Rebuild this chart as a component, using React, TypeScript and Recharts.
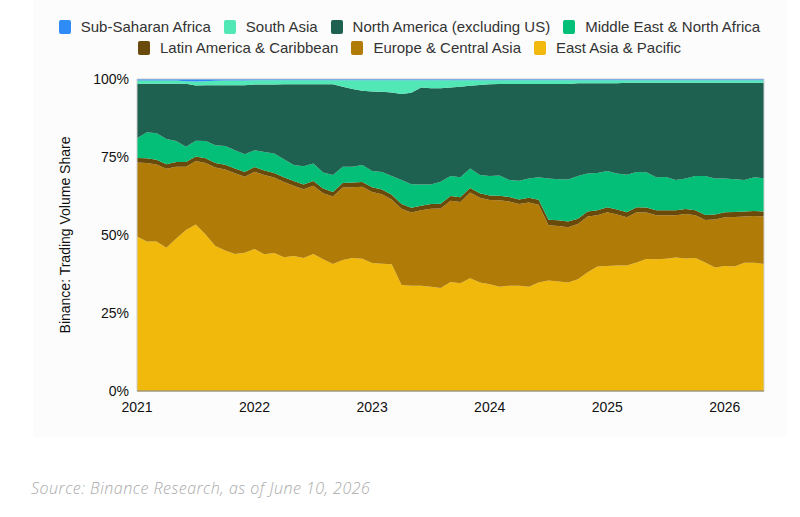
import { AreaChart, Area, XAxis, YAxis, ReferenceArea, Label } from 'recharts'

// months Jan 2021 .. May 2026
const months: string[] = []
for (let y = 2021; y <= 2026; y++) {
    for (let m = 1; m <= 12; m++) {
        if (y === 2026 && m > 5) break
        months.push(`${y}-${String(m).padStart(2, '0')}`)
    }
}

const yearTicks = ['2021-01', '2022-01', '2023-01', '2024-01', '2025-01', '2026-01']
const shareTicks = [0, 0.25, 0.5, 0.75, 1]

// share of trading volume, %
const eastAsiaPacific = [
    49.5, 47.9, 47.9, 45.9, 48.9, 51.6, 53.4, 50.2, 46.5, 45.0, 43.9, 44.3,
    45.5, 43.8, 44.2, 42.9, 43.3, 42.6, 43.9, 42.2, 40.7, 42.0, 42.6, 42.4,
    41.0, 40.8, 40.6, 34.0, 33.7, 33.7, 33.4, 33.0, 34.9, 34.5, 36.1, 34.8,
    34.2, 33.4, 33.7, 33.7, 33.4, 34.8, 35.4, 35.1, 34.8, 35.8, 38.1, 39.9,
    40.1, 40.2, 40.2, 41.2, 42.3, 42.2, 42.4, 42.8, 42.5, 42.6, 41.2, 39.6,
    40.1, 39.9, 41.1, 41.1, 40.7,
]
const europeCentralAsia = [
    23.7, 25.2, 24.7, 25.3, 23.0, 20.3, 20.3, 22.9, 25.1, 26.0, 25.9, 24.4,
    24.8, 25.4, 24.2, 24.1, 22.5, 22.1, 21.9, 21.2, 21.6, 23.2, 22.7, 23.1,
    22.8, 22.3, 20.8, 24.4, 23.5, 24.2, 25.0, 25.5, 26.1, 26.1, 27.5, 27.1,
    27.0, 27.7, 27.0, 26.2, 27.0, 24.9, 17.7, 17.8, 17.7, 17.7, 17.8, 16.4,
    17.2, 16.4, 15.5, 16.1, 14.9, 14.1, 13.9, 13.5, 14.2, 13.7, 13.6, 15.4,
    15.6, 15.9, 14.8, 15.0, 15.2,
]
const latinAmerica = [
    1.5, 1.5, 1.5, 1.5, 1.5, 1.5, 1.5, 1.5, 1.5, 1.5, 1.5, 1.5,
    1.5, 1.5, 1.5, 1.5, 1.5, 1.5, 1.5, 1.5, 1.5, 1.5, 1.5, 1.5,
    1.5, 1.5, 1.5, 1.5, 1.5, 1.5, 1.5, 1.5, 1.5, 1.5, 1.5, 1.5,
    1.5, 1.5, 1.5, 1.5, 1.5, 1.6, 1.8, 1.8, 1.8, 1.7, 1.6, 1.6,
    1.6, 1.6, 1.6, 1.6, 1.6, 1.6, 1.6, 1.6, 1.6, 1.6, 1.6, 1.6,
    1.6, 1.6, 1.6, 1.6, 1.6,
]
const middleEast = [
    6.3, 8.3, 8.5, 8.1, 6.7, 4.9, 5.0, 5.5, 5.7, 6.0, 5.9, 5.7,
    5.4, 5.9, 6.2, 5.8, 5.1, 5.8, 5.6, 5.1, 5.4, 5.2, 5.1, 5.4,
    5.2, 5.6, 6.0, 7.7, 7.6, 6.8, 6.3, 7.1, 6.4, 6.4, 6.2, 5.8,
    6.2, 6.5, 5.4, 6.0, 6.2, 7.2, 13.2, 13.2, 13.5, 13.7, 12.2, 12.0,
    11.6, 11.5, 12.0, 11.3, 11.3, 10.6, 10.7, 9.7, 9.8, 11.0, 12.5, 11.5,
    10.8, 10.5, 10.1, 10.8, 10.7,
]
const northAmerica = [
    17.4, 15.6, 15.9, 17.7, 18.4, 20.2, 17.7, 17.9, 19.2, 19.5, 20.8, 22.1,
    21.0, 21.6, 22.1, 24.0, 25.9, 26.3, 25.4, 28.3, 29.1, 25.6, 24.9, 23.8,
    25.5, 25.7, 26.8, 27.6, 29.3, 31.1, 30.8, 29.9, 28.4, 29.0, 26.5, 28.9,
    29.4, 29.3, 30.8, 31.0, 30.3, 29.9, 30.3, 30.5, 30.6, 29.7, 28.9, 28.7,
    28.1, 28.9, 29.5, 28.6, 28.7, 30.3, 30.2, 31.2, 30.7, 29.9, 29.9, 30.7,
    30.7, 30.9, 31.2, 30.3, 30.6,
]
const southAsia = [
    1.1, 1.0, 1.0, 1.0, 1.0, 0.8, 1.3, 1.3, 1.4, 1.5, 1.5, 1.5,
    1.4, 1.4, 1.4, 1.3, 1.3, 1.3, 1.3, 1.3, 1.3, 2.1, 2.8, 3.4,
    3.6, 3.7, 3.9, 4.4, 4.0, 2.3, 2.6, 2.6, 2.3, 2.1, 1.8, 1.5,
    1.3, 1.2, 1.2, 1.2, 1.2, 1.2, 1.2, 1.2, 1.2, 1.0, 1.0, 1.0,
    1.0, 1.0, 0.8, 0.8, 0.8, 0.8, 0.8, 0.8, 0.8, 0.8, 0.8, 0.8,
    0.8, 0.8, 0.8, 0.8, 0.8,
]
const subSaharan = [
    0.5, 0.5, 0.5, 0.5, 0.5, 0.7, 0.8, 0.7, 0.6, 0.5, 0.5, 0.5,
    0.4, 0.4, 0.4, 0.4, 0.4, 0.4, 0.4, 0.4, 0.4, 0.4, 0.4, 0.4,
    0.4, 0.4, 0.4, 0.4, 0.4, 0.4, 0.4, 0.4, 0.4, 0.4, 0.4, 0.4,
    0.4, 0.4, 0.4, 0.4, 0.4, 0.4, 0.4, 0.4, 0.4, 0.4, 0.4, 0.4,
    0.4, 0.4, 0.4, 0.4, 0.4, 0.4, 0.4, 0.4, 0.4, 0.4, 0.4, 0.4,
    0.4, 0.4, 0.4, 0.4, 0.4,
]

// bottom of the stack first
const series = [
    { key: 'eap', name: 'East Asia & Pacific', color: '#f0b90b', values: eastAsiaPacific },
    { key: 'eca', name: 'Europe & Central Asia', color: '#b07c07', values: europeCentralAsia },
    { key: 'lac', name: 'Latin America & Caribbean', color: '#6a4a0b', values: latinAmerica },
    { key: 'mena', name: 'Middle East & North Africa', color: '#03bf77', values: middleEast },
    { key: 'na', name: 'North America (excluding US)', color: '#1e6150', values: northAmerica },
    { key: 'sa', name: 'South Asia', color: '#52e8b6', values: southAsia },
    { key: 'ssa', name: 'Sub-Saharan Africa', color: '#2f8cf6', values: subSaharan },
]

const data = months.map((month, i) => {
    const row: Record<string, string | number> = { month }
    series.forEach(s => { row[s.key] = s.values[i] })
    return row
})

const font = '"Liberation Sans", Arial, sans-serif'

const legendItems = [...series].reverse()
const legendRows = [legendItems.slice(0, 4), legendItems.slice(4)]

const ChartLegend = () => (
    <div style={{ position: 'absolute', left: 33, top: 16, width: 753, fontFamily: font, fontSize: 15, color: '#333' }}>
        {legendRows.map((row, r) => (
            <div key={r} style={{ display: 'flex', justifyContent: 'center', alignItems: 'center', height: 21, gap: 13 }}>
                {row.map(s => (
                    <div key={s.key} style={{ display: 'flex', alignItems: 'center' }}>
                        <span style={{ display: 'inline-block', width: 12, height: 14, borderRadius: 2, background: s.color, marginRight: 10 }} />
                        <span>{s.name}</span>
                    </div>
                ))}
            </div>
        ))}
    </div>
)

const App = () => (
    <div style={{ position: 'absolute', left: 0, top: 0, width: 800, height: 517, background: '#fff' }}>
        <div style={{ position: 'absolute', left: 33, top: 0, width: 753, height: 437, background: '#fcfcfc' }} />
        <div style={{ position: 'absolute', left: 0, top: 0 }}>
            <AreaChart
                width={800}
                height={437}
                data={data}
                stackOffset="expand"
                margin={{ top: 79, right: 36, bottom: 16, left: 77 }}
            >
                <XAxis
                    dataKey="month"
                    ticks={yearTicks}
                    interval={0}
                    tickFormatter={(v: string) => v.slice(0, 4)}
                    tickLine={false}
                    axisLine={{ stroke: '#8c7a4a' }}
                    tickMargin={5}
                    height={30}
                    tick={{ fill: '#111', fontSize: 14, fontFamily: font }}
                />
                <YAxis
                    ticks={shareTicks}
                    domain={[0, 1]}
                    tickFormatter={(v: number) => `${Math.round(v * 100)}%`}
                    tickLine={false}
                    axisLine={false}
                    width={60}
                    tick={{ fill: '#111', fontSize: 14, fontFamily: font }}
                >
                    <Label
                        content={() => (
                            <text
                                x={65}
                                y={235}
                                transform="rotate(-90 65 235)"
                                textAnchor="middle"
                                dominantBaseline="central"
                                fontSize={14}
                                fontFamily={font}
                                fill="#111"
                            >
                                Binance: Trading Volume Share
                            </text>
                        )}
                    />
                </YAxis>
                {series.map(s => (
                    <Area
                        key={s.key}
                        type="linear"
                        dataKey={s.key}
                        name={s.name}
                        stackId="1"
                        fill={s.color}
                        fillOpacity={1}
                        stroke="none"
                        isAnimationActive={false}
                    />
                ))}
                <ReferenceArea
                    x1={months[0]}
                    x2={months[months.length - 1]}
                    y1={0}
                    y2={1}
                    fill="none"
                    stroke="#cfcfcf"
                    strokeWidth={1}
                    ifOverflow="visible"
                />
            </AreaChart>
        </div>
        <ChartLegend />
        <div
            style={{
                position: 'absolute',
                left: 31,
                top: 477,
                fontFamily: '"Open Sans", sans-serif',
                fontStyle: 'italic',
                fontWeight: 300,
                fontSize: 16,
                letterSpacing: 0.5,
                color: '#aaaaaa',
            }}
        >
            Source: Binance Research, as of June 10, 2026
        </div>
    </div>
)

export default App
